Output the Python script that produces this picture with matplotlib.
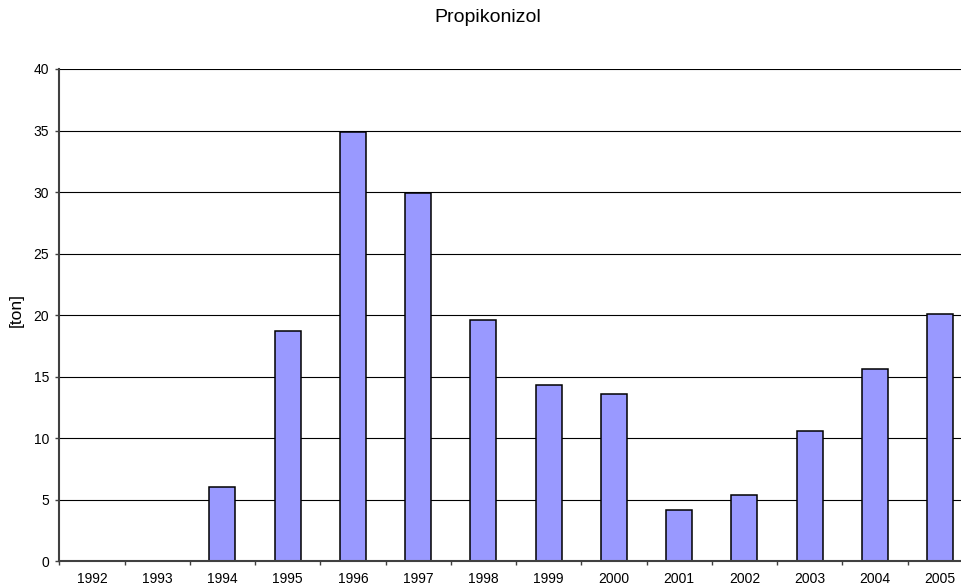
import matplotlib
matplotlib.use("Agg")
import matplotlib.pyplot as plt
import numpy as np

plt.rcParams['font.family'] = ['Liberation Sans', 'DejaVu Sans']

years = ['1992', '1993', '1994', '1995', '1996', '1997', '1998',
         '1999', '2000', '2001', '2002', '2003', '2004', '2005']
tons = [0, 0, 6.0, 18.7, 34.9, 29.9, 19.6,
        14.3, 13.6, 4.2, 5.4, 10.6, 15.6, 20.1]
y_ticks = [0, 5, 10, 15, 20, 25, 30, 35, 40]

W, H = 962, 587
fig = plt.figure(figsize=(W / 100, H / 100), dpi=100)

# Plot area runs slightly past the right edge of the canvas
left_px, bottom_px, top_px = 59.3, 561.2, 69.0
cat_px = 65.25
ax = fig.add_axes([left_px / W, (H - bottom_px) / H,
                   len(years) * cat_px / W, (bottom_px - top_px) / H])

x = np.arange(len(years))
ax.bar(x, tons, width=0.4, color='#9999FF', edgecolor='black',
       linewidth=1.1, zorder=3)

ax.set_xlim(-0.5, len(years) - 0.5)
ax.set_ylim(0, 40)
ax.set_yticks(y_ticks)
ax.set_yticklabels([str(v) for v in y_ticks])
ax.yaxis.grid(True, color='black', linewidth=0.8)
ax.set_axisbelow(True)

ax.set_xticks(x)
ax.set_xticklabels(years)
ax.set_xticks(np.arange(len(years) + 1) - 0.5, minor=True)
ax.tick_params(axis='x', which='major', length=0, pad=8, labelsize=10)
ax.tick_params(axis='x', which='minor', length=3.2, width=1.0,
               color='#404040', direction='out')
ax.tick_params(axis='y', length=3.2, width=1.0, color='#404040',
               direction='out', pad=4, labelsize=10)

for side in ('top', 'right'):
    ax.spines[side].set_visible(False)
for side in ('left', 'bottom'):
    ax.spines[side].set_color('#404040')
    ax.spines[side].set_linewidth(1.5)
    ax.spines[side].set_zorder(4)

fig.text(16 / W, 1 - 310 / H, '[ton]', rotation=90, fontsize=12.5,
         ha='center', va='center')
fig.text(488 / W, 1 - 18 / H, 'Propikonizol', fontsize=14,
         ha='center', va='center')

fig.savefig('out.png', dpi=100)
